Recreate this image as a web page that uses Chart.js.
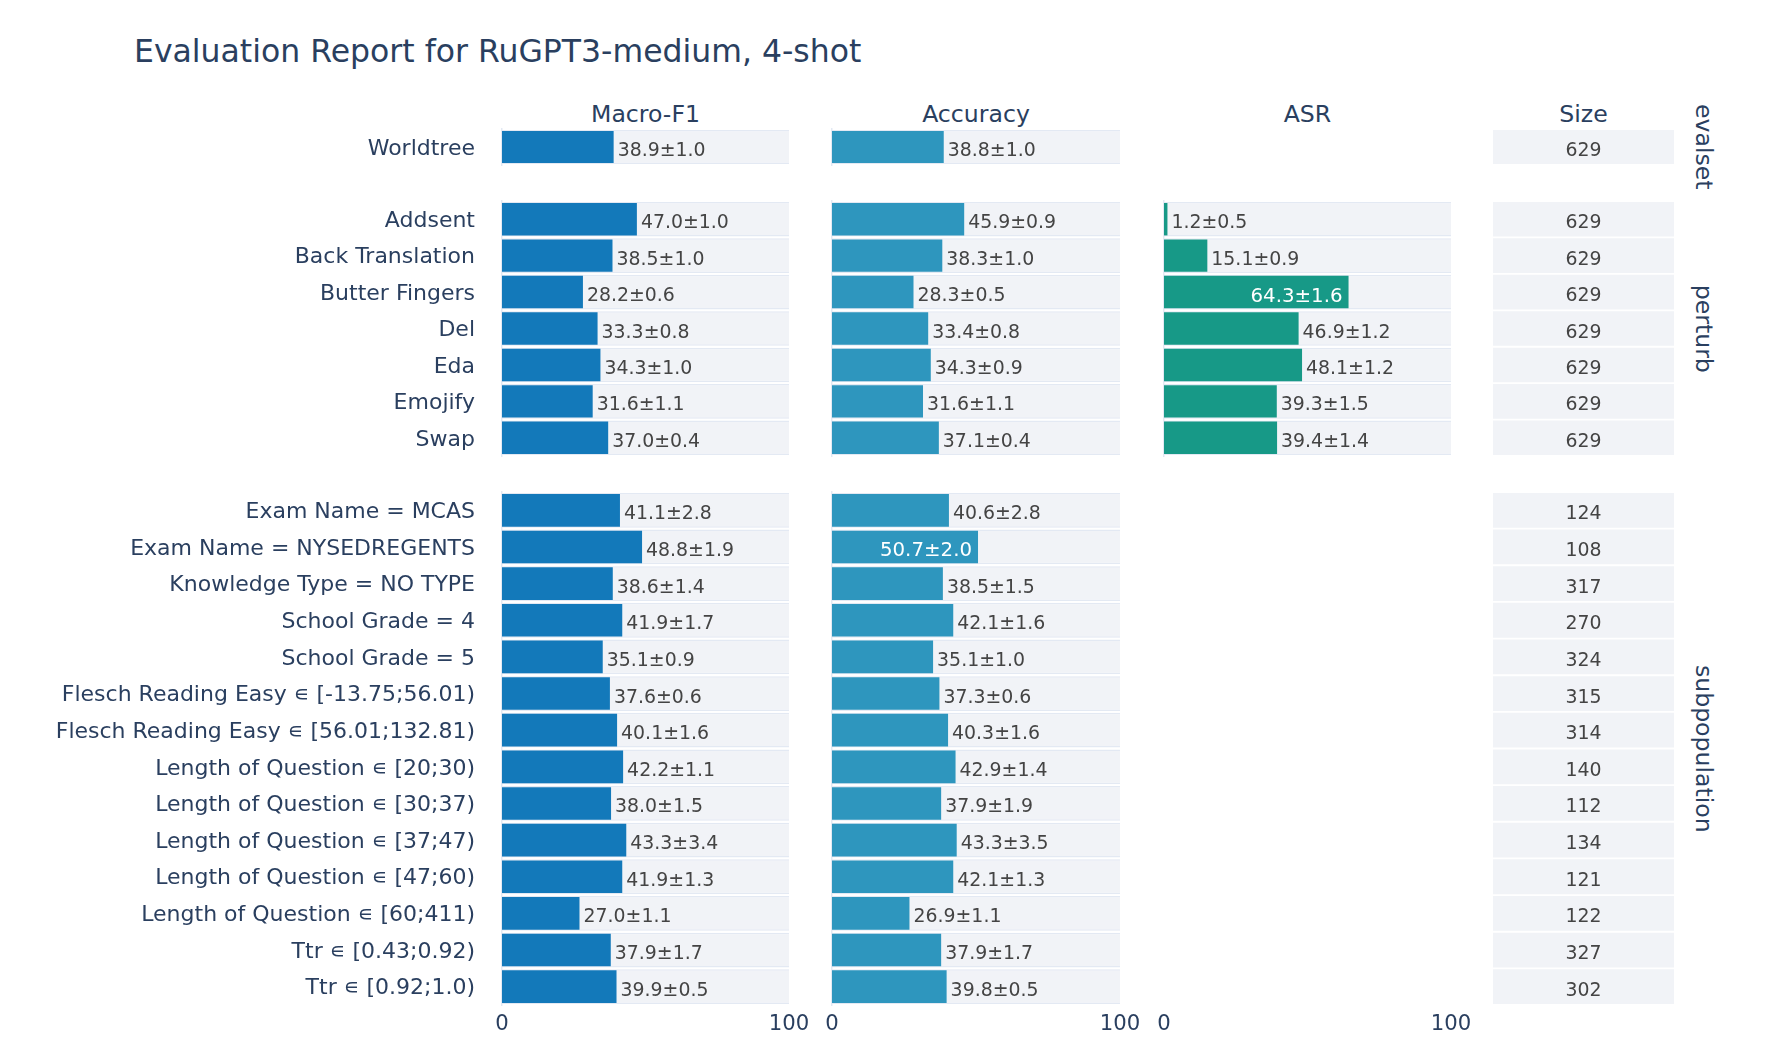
<!DOCTYPE html>
<html><head><meta charset="utf-8">
<script src="https://cdn.jsdelivr.net/npm/chart.js@4.4.0/dist/chart.umd.min.js"></script>
<style>
html,body{margin:0;padding:0;background:#fff;}
body{width:1768px;height:1056px;position:relative;overflow:hidden;font-family:"DejaVu Sans";}
.t{position:absolute;white-space:nowrap;line-height:1;color:#2a3f5f;font-family:"DejaVu Sans";}
.p{position:absolute;}
</style></head><body>
<script>
// ---------------- data ----------------
const chartTitle = "Evaluation Report for RuGPT3-medium, 4-shot";
const columnNames = ["Macro-F1", "Accuracy", "ASR", "Size"];
const groupNames = ["evalset", "perturb", "subpopulation"];

const evalsetCats = ["Worldtree"];
const perturbCats = ["Addsent", "Back Translation", "Butter Fingers", "Del", "Eda", "Emojify", "Swap"];
const subpopCats = [
  "Exam Name = MCAS", "Exam Name = NYSEDREGENTS", "Knowledge Type = NO TYPE",
  "School Grade = 4", "School Grade = 5",
  "Flesch Reading Easy \u220A [-13.75;56.01)", "Flesch Reading Easy \u220A [56.01;132.81)",
  "Length of Question \u220A [20;30)", "Length of Question \u220A [30;37)", "Length of Question \u220A [37;47)",
  "Length of Question \u220A [47;60)", "Length of Question \u220A [60;411)",
  "Ttr \u220A [0.43;0.92)", "Ttr \u220A [0.92;1.0)"
];

const f1Evalset = [38.9];
const f1EvalsetErr = [1.0];
const f1Perturb = [47.0, 38.5, 28.2, 33.3, 34.3, 31.6, 37.0];
const f1PerturbErr = [1.0, 1.0, 0.6, 0.8, 1.0, 1.1, 0.4];
const f1Subpop = [41.1, 48.8, 38.6, 41.9, 35.1, 37.6, 40.1, 42.2, 38.0, 43.3, 41.9, 27.0, 37.9, 39.9];
const f1SubpopErr = [2.8, 1.9, 1.4, 1.7, 0.9, 0.6, 1.6, 1.1, 1.5, 3.4, 1.3, 1.1, 1.7, 0.5];

const accEvalset = [38.8];
const accEvalsetErr = [1.0];
const accPerturb = [45.9, 38.3, 28.3, 33.4, 34.3, 31.6, 37.1];
const accPerturbErr = [0.9, 1.0, 0.5, 0.8, 0.9, 1.1, 0.4];
const accSubpop = [40.6, 50.7, 38.5, 42.1, 35.1, 37.3, 40.3, 42.9, 37.9, 43.3, 42.1, 26.9, 37.9, 39.8];
const accSubpopErr = [2.8, 2.0, 1.5, 1.6, 1.0, 0.6, 1.6, 1.4, 1.9, 3.5, 1.3, 1.1, 1.7, 0.5];

const asrPerturb = [1.2, 15.1, 64.3, 46.9, 48.1, 39.3, 39.4];
const asrPerturbErr = [0.5, 0.9, 1.6, 1.2, 1.2, 1.5, 1.4];

const sizeEvalset = [629];
const sizePerturb = [629, 629, 629, 629, 629, 629, 629];
const sizeSubpop = [124, 108, 317, 270, 324, 315, 314, 140, 112, 134, 121, 122, 327, 302];

const xTickValues = [0, 100];

// ---------------- layout / style ----------------
const plotL = [502, 832, 1164, 1493];
const plotW = [287, 288, 287, 181];
const plotT = [129, 201, 492];
const plotH = [36, 255, 513];
const colColors = ["#1379BA", "#2E96BE", "#179987"];
const TXT = "#2a3f5f";
const FONT = "DejaVu Sans";
Chart.defaults.font.family = FONT;

function addText(txt, css) {
  const d = document.createElement('div');
  d.className = 't';
  d.textContent = txt;
  Object.assign(d.style, css);
  document.body.appendChild(d);
  return d;
}

// title
addText(chartTitle, {left: '134px', top: '36px', fontSize: '31.5px'});
// column titles
columnNames.forEach((n, i) => {
  const cx = plotL[i] + plotW[i] / 2;
  addText(n, {left: (cx - 200) + 'px', width: '400px', textAlign: 'center', top: '102.5px', fontSize: '23.6px'});
});
// group labels (rotated)
groupNames.forEach((n, g) => {
  const cy = plotT[g] + plotH[g] / 2;
  const fs = 23.6;
  addText(n, {left: (1702.7 - 200) + 'px', width: '400px', height: fs + 'px', textAlign: 'center',
    top: (cy - fs / 2) + 'px', fontSize: fs + 'px', transform: 'rotate(90deg)', transformOrigin: '50% 50%'});
});

const valueLabels = {
  id: 'valueLabels',
  afterDatasetsDraw(chart) {
    const ds = chart.data.datasets[0];
    if (!ds || !ds.texts) return;
    const meta = chart.getDatasetMeta(0);
    const ctx = chart.ctx;
    ctx.save();
    ctx.textBaseline = 'alphabetic';
    meta.data.forEach((el, i) => {
      const t = ds.texts[i];
      if (t == null) return;
      const y = el.y + 9;
      if (ds.mode === 'center') {
        ctx.font = '18.9px "' + FONT + '"';
        ctx.fillStyle = '#444'; ctx.textAlign = 'center';
        ctx.fillText(t, (el.x + el.base) / 2, y);
      } else if (ds.inside[i]) {
        ctx.font = '19.8px "' + FONT + '"';
        ctx.fillStyle = '#fff'; ctx.textAlign = 'right';
        ctx.fillText(t, el.x - 6, y + 0.5);
      } else {
        ctx.font = '18.9px "' + FONT + '"';
        ctx.fillStyle = '#444'; ctx.textAlign = 'left';
        ctx.fillText(t, el.x + 4, y);
      }
    });
    ctx.restore();
  }
};

function makePanel(col, g, cats, vals, errs, sizes) {
  const showX = (g === 2 && col < 3);
  const padL = col === 0 ? plotL[0] : 20;
  const padR = 30, padT = 50;
  const padB = 50;
  const div = document.createElement('div');
  div.className = 'p';
  Object.assign(div.style, {
    left: (plotL[col] - padL) + 'px', top: (plotT[g] - padT) + 'px',
    width: (plotW[col] + padL + padR) + 'px', height: (plotH[g] + padT + padB) + 'px'
  });
  const cv = document.createElement('canvas');
  div.appendChild(cv);
  document.body.appendChild(div);

  let datasets = [];
  let xMin = 0, xMax = 100;
  if (col === 3) {
    xMax = 1;
    datasets = [{
      data: cats.map(() => [0, 1]), backgroundColor: '#F1F3F7', barPercentage: 0.95, categoryPercentage: 1,
      grouped: false, order: 0, texts: sizes.map(String), mode: 'center'
    }];
  } else if (vals) {
    datasets = [
      { data: vals, backgroundColor: colColors[col], barPercentage: 0.89, categoryPercentage: 1, grouped: false, order: 0,
        texts: vals.map((v, i) => v.toFixed(1) + '\u00B1' + errs[i].toFixed(1)),
        inside: vals.map(v => v > 50) },
      { data: cats.map(() => 100), backgroundColor: '#F1F3F7', borderColor: '#E3E9F3',
        borderWidth: {top: 1.5, bottom: 1.5, left: 0, right: 0}, borderSkipped: false,
        barPercentage: 0.95, categoryPercentage: 1, grouped: false, order: 1 }
    ];
  } else {
    datasets = [{ data: cats.map(() => null), backgroundColor: 'rgba(0,0,0,0)' }];
  }

  new Chart(cv, {
    type: 'bar',
    data: { labels: cats, datasets },
    options: {
      indexAxis: 'y', responsive: true, maintainAspectRatio: false, animation: false,
      layout: { padding: { left: col === 0 ? 0 : padL, right: padR, top: padT, bottom: showX ? 0 : padB } },
      plugins: { legend: { display: false }, tooltip: { enabled: false }, title: { display: false } },
      scales: {
        x: {
          type: 'linear', min: xMin, max: xMax, display: showX,
          afterBuildTicks: (s) => { s.ticks = xTickValues.map(v => ({ value: v })); },
          ticks: { color: TXT, font: { size: 21.2 }, padding: 6.5, maxRotation: 0, autoSkip: false },
          grid: { display: false, drawTicks: false }, border: { display: false },
          afterFit: (s) => { s.height = showX ? padB : 0; }
        },
        y: {
          type: 'category', display: (col !== 3 && !!vals) || col === 0,
          ticks: { display: col === 0, color: TXT, font: { size: 22 }, padding: 27, autoSkip: false, labelOffset: 2 },
          grid: { display: false, drawTicks: false },
          border: { display: col !== 3 && !!vals, color: '#E3E9F3', width: 1.5 },
          afterFit: (s) => { s.width = col === 0 ? plotL[0] : 0; }
        }
      }
    },
    plugins: [valueLabels]
  });
}

makePanel(0, 0, evalsetCats, f1Evalset, f1EvalsetErr);
makePanel(0, 1, perturbCats, f1Perturb, f1PerturbErr);
makePanel(0, 2, subpopCats, f1Subpop, f1SubpopErr);
makePanel(1, 0, evalsetCats, accEvalset, accEvalsetErr);
makePanel(1, 1, perturbCats, accPerturb, accPerturbErr);
makePanel(1, 2, subpopCats, accSubpop, accSubpopErr);
makePanel(2, 1, perturbCats, asrPerturb, asrPerturbErr);
makePanel(2, 2, subpopCats, null, null);
makePanel(3, 0, evalsetCats, null, null, sizeEvalset);
makePanel(3, 1, perturbCats, null, null, sizePerturb);
makePanel(3, 2, subpopCats, null, null, sizeSubpop);
</script>
</body></html>
